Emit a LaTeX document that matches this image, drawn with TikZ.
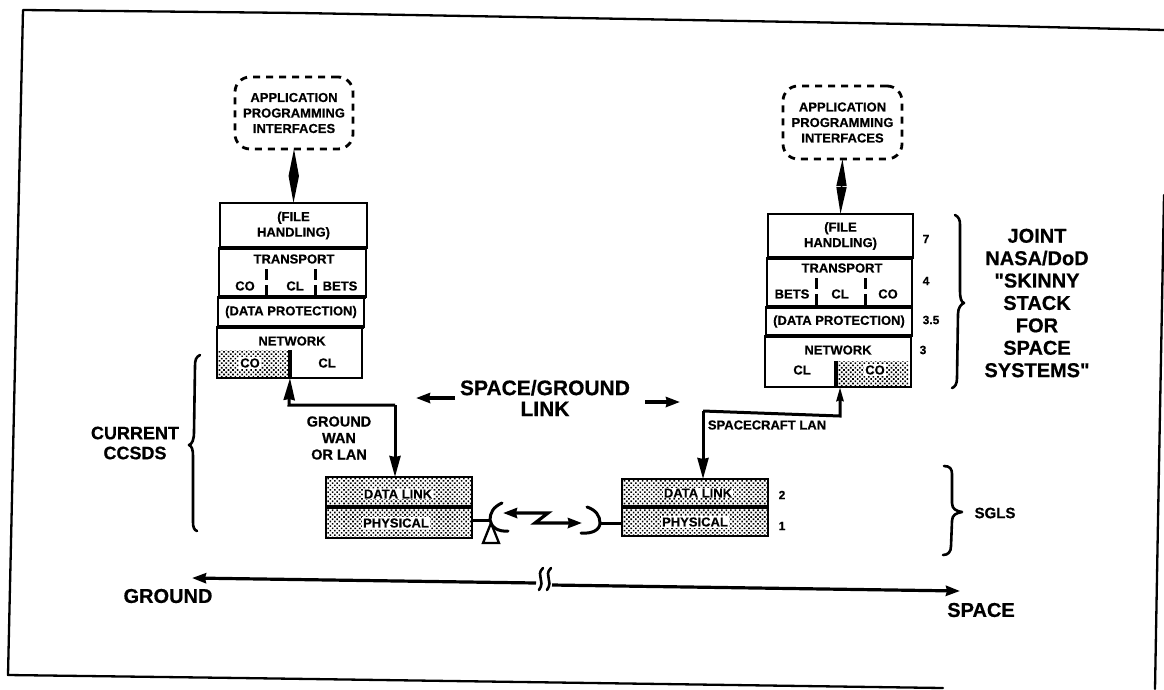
\documentclass[tikz,border=0pt]{standalone}
\usepackage{fontspec}
\setmainfont{Liberation Sans}[BoldFeatures={FakeBold=0.6}]
\newfontfamily\rawquote{Liberation Sans}[BoldFeatures={FakeBold=0.6}]
\usetikzlibrary{arrows.meta,patterns.meta}
\tikzset{
  frameline/.style={line width=2.3pt,line cap=round,line join=round},
  lbl/.style={inner sep=0pt,font=\bfseries\fontsize{13}{15.5}\selectfont,align=center},
  lblbig/.style={inner sep=0pt,font=\bfseries\fontsize{20}{22}\selectfont,align=center},
  lblmid/.style={inner sep=0pt,font=\bfseries\fontsize{18}{20}\selectfont,align=center},
  lblnum/.style={inner sep=0pt,font=\bfseries\fontsize{12}{14}\selectfont},
  cell/.style={draw,line width=2.4pt,inner sep=0pt,outer sep=0pt,rectangle,lbl},
  halftone/.style={pattern={Dots[angle=45,distance=3.2pt,radius=1.15pt]},pattern color=black},
  shade/.style={halftone,inner sep=0pt,outer sep=0pt,rectangle},
  lowbox/.style={draw,line width=2.8pt,halftone,inner sep=0pt,outer sep=0pt,rectangle},
  whitelbl/.style={lbl,fill=white,inner sep=1pt},
  apibox/.style={draw,line width=2.8pt,dash pattern=on 7pt off 6pt,rounded corners=15pt,inner sep=0pt,outer sep=0pt,minimum width=118pt,minimum height=72pt,lbl},
  sep/.style={line width=4.5pt},
  divide/.style={line width=3pt,dash pattern=on 11pt off 5pt on 9pt off 0pt},
  link/.style={line width=3pt},
  longhead/.style={-{Stealth[length=21pt,width=11pt,inset=1pt]}},
  bothheads/.style={{Triangle[length=27pt,width=10pt]}-{Triangle[length=27pt,width=10pt]},line width=1.5pt},
  smallhead/.style={-{Stealth[length=14pt,width=10pt,inset=1pt]},line width=3.2pt},
  bracecurve/.style={line width=2.6pt,line cap=round,line join=round}
}
\begin{document}
\begin{tikzpicture}[x=1pt,y=-1pt]
\useasboundingbox (0,0) rectangle (1164,689);
% scanned page frame
\draw[frameline] (1164,30) -- (964,25) -- (300,13) -- (23,10) -- (8,675) -- (240,678) -- (943,688);
\draw[frameline] (1164,195) -- (1158,520) -- (1155,689);

% left stack
\node[shade,minimum width=73pt,minimum height=28pt] (coL) at (253.5,364) {};
\node[apibox] (apiL) at (294,113) {APPLICATION\\PROGRAMMING\\INTERFACES};
\node[cell,minimum width=147pt,minimum height=45pt] (fileL) at (293.5,225.5) {(FILE\\HANDLING)};
\node[cell,minimum width=147pt,minimum height=49pt] (transL) at (292.5,272.5) {};
\node[cell,minimum width=146pt,minimum height=30pt] (dataL) at (291,312) {(DATA PROTECTION)};
\node[cell,minimum width=145pt,minimum height=51pt] (netL) at (289.5,352.5) {};
\node[lbl] (tL) at (294,259) {TRANSPORT};
\node[lbl] (tcoL) at (245,286) {CO};
\node[lbl] (tclL) at (295,286) {CL};
\node[lbl] (tbeL) at (340,286) {BETS};
\node[lbl] (nL) at (292,341) {NETWORK};
\node[whitelbl] (ncoL) at (250,363) {CO};
\node[lbl] (nclL) at (327,363) {CL};
\draw[sep] (fileL.south west) -- (fileL.south east);
\draw[sep] (transL.south west) -- (transL.south east);
\draw[sep] (dataL.south west) -- (dataL.south east);
\coordinate (d1Lt) at (266,269); \coordinate (d1Lb) at (266,297);
\coordinate (d2Lt) at (315,269); \coordinate (d2Lb) at (315,297);
\draw[divide] (d1Lt) -- (d1Lb);
\draw[divide] (d2Lt) -- (d2Lb);
\draw[line width=3.2pt] (coL.north east) -- (coL.south east);

% right stack
\node[shade,minimum width=72pt,minimum height=26pt] (coR) at (872,374) {};
\node[apibox,minimum width=119pt,minimum height=73pt] (apiR) at (842.5,122.5) {APPLICATION\\PROGRAMMING\\INTERFACES};
\node[cell,minimum width=145pt,minimum height=44pt] (fileR) at (840.5,236) {(FILE\\HANDLING)};
\node[cell,minimum width=145pt,minimum height=49pt] (transR) at (839.5,282.5) {};
\node[cell,minimum width=146pt,minimum height=29pt] (dataR) at (839,321.5) {(DATA PROTECTION)};
\node[cell,minimum width=146pt,minimum height=51pt] (netR) at (838,361.5) {};
\node[lbl] (tR) at (842,268) {TRANSPORT};
\node[lbl] (tbeR) at (792,294) {BETS};
\node[lbl] (tclR) at (840,294) {CL};
\node[lbl] (tcoR) at (888,294) {CO};
\node[lbl] (nR) at (838,350) {NETWORK};
\node[lbl] (nclR) at (802,370) {CL};
\node[whitelbl] (ncoR) at (875,370) {CO};
\draw[sep] (fileR.south west) -- (fileR.south east);
\draw[sep] (transR.south west) -- (transR.south east);
\draw[sep] (dataR.south west) -- (dataR.south east);
\coordinate (d1Rt) at (816,278); \coordinate (d1Rb) at (816,307);
\coordinate (d2Rt) at (865,278); \coordinate (d2Rb) at (865,307);
\draw[divide] (d1Rt) -- (d1Rb);
\draw[divide] (d2Rt) -- (d2Rb);
\draw[line width=3.2pt] (coR.north west) -- (coR.south west);
\node[lblnum] (n7) at (926,239) {7};
\node[lblnum] (n4) at (926,281) {4};
\node[lblnum] (n35) at (931,320) {3.5};
\node[lblnum] (n3) at (923,350) {3};

% API connectors
\draw[bothheads] (apiL.south) -- (fileL.north);
\draw[bothheads] (apiR.south) -- (fileR.north);

% lower boxes
\node[lowbox,minimum width=146pt,minimum height=30pt] (dlL) at (399,492) {};
\node[lowbox,minimum width=146pt,minimum height=31pt] (phL) at (399,522.5) {};
\node[lowbox,minimum width=146pt,minimum height=28pt] (dlR) at (695,493) {};
\node[lowbox,minimum width=146pt,minimum height=29pt] (phR) at (695,521.5) {};
\draw[sep] (dlL.south west) -- (dlL.south east);
\draw[sep] (dlR.south west) -- (dlR.south east);
\node[whitelbl] (dlLt) at (398,494) {DATA LINK};
\node[whitelbl] (phLt) at (396,523) {PHYSICAL};
\node[whitelbl] (dlRt) at (698,493) {DATA LINK};
\node[whitelbl] (phRt) at (695,522) {PHYSICAL};
\node[lblnum] (n2) at (782,495) {2};
\node[lblnum] (n1) at (782,526) {1};

% stack to lower box connectors
\coordinate (elL1) at (289,405); \coordinate (elL2) at (395,405);
\coordinate (tipL) at (395,477);
\draw[link,{Stealth[length=22pt,width=11pt,inset=1pt]}-] (coL.south east) -- (elL1) -- (elL2);
\draw[link,longhead] (elL2) -- (tipL);
\coordinate (elR1) at (840,416); \coordinate (elR2) at (703,411);
\coordinate (tipR) at (703,479);
\draw[link,{Stealth[length=14pt,width=7pt,inset=1pt]}-] (coR.south west -| elR1) -- (elR1) -- (elR2);
\draw[link,longhead] (elR2) -- (tipR);
\node[lbl,font=\bfseries\fontsize{14.5}{16.5}\selectfont] (wan) at (339,438) {GROUND\\WAN\\OR LAN};
\node[lbl] (lan) at (767,425) {SPACECRAFT LAN};

% SPACE/GROUND link
\node[lbl,font=\bfseries\fontsize{21}{21}\selectfont] (sg) at (545,398) {SPACE/GROUND\\LINK};
\coordinate (sgL0) at (455,398); \coordinate (sgL1) at (416,398);
\coordinate (sgR0) at (645,402); \coordinate (sgR1) at (680,402);
\draw[smallhead] (sgL0) -- (sgL1);
\draw[smallhead] (sgR0) -- (sgR1);

% antennas and radio link
\coordinate (dishLc) at (490,520);
\coordinate (dishRc) at (600,523);
\draw[line width=3pt] (phL.east |- dishLc) -- (dishLc);
\draw[line width=3pt] (dishRc) -- (phR.west |- dishRc);
\draw[line width=3pt,line cap=round] (502,503) .. controls (493,507) and (490,513) .. (dishLc) .. controls (491,527) and (498,532) .. (508,531);
\draw[line width=3pt,line cap=round] (587,507) .. controls (596,510) and (600,516) .. (dishRc) .. controls (600,530) and (592,534) .. (581,533);
\draw[line width=2.3pt,line join=miter] (491,523) -- (483,543) -- (499,543) -- cycle;
\coordinate (zzA) at (503,513); \coordinate (zzB) at (548,513);
\coordinate (zzC) at (535,523); \coordinate (zzD) at (582,523);
\draw[line width=3.2pt,{Stealth[length=14pt,width=10pt,inset=1pt]}-{Stealth[length=14pt,width=10pt,inset=1pt]}] (zzA) -- (zzB) -- (zzC) -- (zzD);

% ground-space axis
\coordinate (axL0) at (536,583); \coordinate (axL1) at (192,578);
\coordinate (axR0) at (552,585); \coordinate (axR1) at (960,591);
\draw[smallhead] (axL0) -- (axL1);
\draw[smallhead] (axR0) -- (axR1);
\draw[line width=2.6pt,line cap=round] (543,568) .. controls (535,576) and (546,580) .. (539,590);
\draw[line width=2.6pt,line cap=round] (551,568) .. controls (543,576) and (554,580) .. (547,590);
\node[lblbig] (gr) at (168,596) {GROUND};
\node[lblbig] (sp) at (981,610) {SPACE};

% braces
\draw[bracecurve] (200,355) .. controls (196,357) and (195,360) .. (195,366) -- (194,432) .. controls (194,440) and (192,444) .. (189,445) .. controls (192,446) and (193,450) .. (193,456) -- (193,522) .. controls (193,527) and (194,530) .. (197,531);
\draw[bracecurve] (955,215) .. controls (959,217) and (960,220) .. (960,225) -- (960,290) .. controls (960,298) and (961,302) .. (964,303) .. controls (961,304) and (958,308) .. (958,314) -- (957,378) .. controls (957,384) and (955,387) .. (952,388);
\draw[bracecurve] (944,466) .. controls (950,466) and (952,469) .. (952,474) -- (952,503) .. controls (952,509) and (956,511) .. (962,512) .. controls (956,513) and (952,515) .. (952,521) -- (951,546) .. controls (951,552) and (948,555) .. (943,555);
\node[lblmid] (cc) at (135,443) {CURRENT\\CCSDS};
\node[lblmid,font=\rawquote\bfseries\fontsize{20}{22.4}\selectfont] (joint) at (1037,303) {JOINT\\NASA/DoD\\"SKINNY\\STACK\\FOR\\SPACE\\SYSTEMS"};
\node[lbl,font=\bfseries\fontsize{15}{17}\selectfont] (sgls) at (995,513) {SGLS};
\end{tikzpicture}
\end{document}
